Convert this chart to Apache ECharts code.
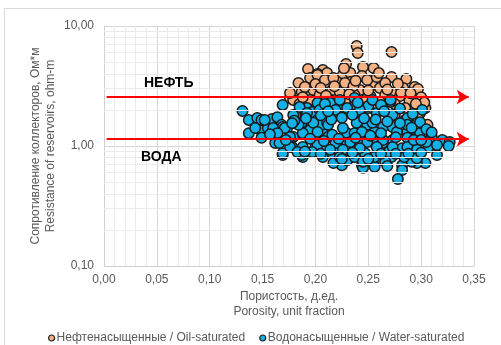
<!DOCTYPE html>
<html>
<head>
<meta charset="utf-8">
<script src="https://cdn.jsdelivr.net/npm/echarts@6/dist/echarts.min.js"></script>
<style>
  html, body { margin: 0; padding: 0; background: #fff; }
  #chart { width: 501px; height: 345px; }
</style>
</head>
<body>
<div id="chart"></div>
<script>
// Нефтенасыщенные: [пористость, сопротивление]
const oilPoints = [
  [0.239, 6.81], [0.240, 5.96], [0.272, 6.07], [0.255, 4.47], [0.245, 4.55], [0.229, 4.82],
  [0.193, 4.38], [0.207, 4.30], [0.202, 3.98], [0.211, 4.06], [0.226, 3.91], [0.233, 4.06],
  [0.244, 3.83], [0.272, 3.76], [0.286, 3.62], [0.184, 3.35], [0.195, 3.69], [0.212, 3.35],
  [0.221, 3.41], [0.233, 3.41], [0.254, 3.22], [0.261, 3.04], [0.294, 3.10], [0.297, 2.99],
  [0.283, 3.04], [0.273, 2.77], [0.187, 2.82], [0.176, 2.51], [0.202, 2.56], [0.220, 2.77],
  [0.242, 2.93], [0.291, 2.51], [0.304, 2.07], [0.306, 1.50], [0.299, 1.88], [0.292, 2.11],
  [0.202, 3.91], [0.209, 3.55], [0.179, 2.42], [0.216, 2.93], [0.223, 2.82], [0.198, 2.93],
  [0.204, 2.66], [0.228, 3.35], [0.176, 2.77], [0.266, 2.66], [0.280, 2.61], [0.289, 2.37],
  [0.252, 2.61], [0.237, 2.66], [0.247, 2.42], [0.261, 2.33], [0.275, 2.24], [0.285, 2.07],
  [0.297, 1.71], [0.185, 2.24], [0.214, 2.42], [0.228, 2.33], [0.236, 3.16], [0.217, 3.69],
  [0.249, 3.55], [0.266, 3.35], [0.200, 3.28], [0.195, 2.42], [0.256, 2.00], [0.275, 1.81],
  [0.242, 2.07], [0.285, 1.65], [0.223, 2.07], [0.190, 3.10], [0.205, 3.05], [0.218, 3.15],
  [0.238, 3.50], [0.258, 3.75], [0.268, 2.95], [0.281, 2.80], [0.290, 2.75], [0.300, 2.55],
  [0.303, 2.30], [0.295, 2.25], [0.250, 2.90], [0.232, 2.70], [0.210, 2.62], [0.188, 2.55],
  [0.278, 3.30], [0.260, 4.05], [0.227, 4.45]
]

// Водонасыщенные: [пористость, сопротивление]
const waterPoints = [
  [0.131, 1.96], [0.137, 1.65], [0.145, 1.71], [0.137, 1.28], [0.148, 1.36], [0.155, 1.41],
  [0.149, 1.65], [0.159, 1.68], [0.164, 1.74], [0.168, 1.50], [0.173, 1.39], [0.169, 0.84],
  [0.178, 0.98], [0.179, 1.19], [0.188, 0.81], [0.185, 1.74], [0.192, 2.07], [0.197, 1.92],
  [0.202, 1.65], [0.204, 2.07], [0.188, 1.44], [0.198, 1.36], [0.207, 1.28], [0.209, 0.93],
  [0.152, 1.65], [0.169, 2.20], [0.181, 1.81], [0.169, 1.44], [0.160, 1.41], [0.187, 1.56],
  [0.195, 1.36], [0.206, 1.50], [0.211, 1.58], [0.220, 1.88], [0.226, 2.07], [0.202, 2.28],
  [0.214, 2.28], [0.169, 0.87], [0.187, 0.84], [0.200, 0.98], [0.207, 0.81], [0.216, 0.87],
  [0.221, 0.93], [0.230, 0.79], [0.225, 0.69], [0.212, 1.19], [0.230, 1.28], [0.188, 1.28],
  [0.176, 1.19], [0.162, 1.06], [0.223, 2.42], [0.230, 1.92], [0.240, 1.92], [0.250, 2.07],
  [0.258, 1.88], [0.271, 2.33], [0.287, 1.65], [0.299, 1.58], [0.301, 2.00], [0.249, 1.50],
  [0.264, 1.44], [0.273, 1.44], [0.256, 1.31], [0.237, 1.28], [0.230, 1.06], [0.242, 1.06],
  [0.254, 1.08], [0.264, 1.06], [0.273, 1.12], [0.287, 1.31], [0.297, 1.24], [0.310, 1.19],
  [0.320, 1.12], [0.327, 1.08], [0.307, 0.98], [0.315, 0.84], [0.304, 0.72], [0.296, 0.72],
  [0.291, 0.74], [0.282, 0.69], [0.282, 0.63], [0.278, 0.53], [0.272, 0.81], [0.263, 0.76],
  [0.254, 0.72], [0.244, 0.69], [0.235, 0.81], [0.226, 0.89], [0.247, 0.87], [0.259, 0.93],
  [0.271, 0.93], [0.282, 0.96], [0.292, 1.02], [0.233, 0.96], [0.245, 0.66], [0.256, 0.67],
  [0.266, 0.74], [0.326, 1.00], [0.217, 0.72], [0.230, 0.76], [0.237, 0.81], [0.269, 0.89],
  [0.299, 1.28], [0.287, 1.17], [0.287, 1.71], [0.273, 1.81], [0.271, 2.42], [0.250, 2.15],
  [0.237, 2.15], [0.185, 2.11], [0.179, 1.81], [0.192, 1.88], [0.204, 2.00], [0.219, 2.00],
  [0.230, 2.07], [0.242, 2.00], [0.254, 1.56], [0.239, 1.56], [0.226, 1.41], [0.212, 1.50],
  [0.198, 1.56], [0.184, 1.50], [0.171, 1.41], [0.164, 1.28], [0.202, 1.31], [0.216, 1.24],
  [0.244, 1.31], [0.277, 1.31], [0.287, 1.50], [0.264, 1.12], [0.249, 1.08], [0.233, 1.08],
  [0.219, 1.06], [0.202, 1.02], [0.188, 0.98], [0.176, 0.98], [0.166, 1.06], [0.183, 0.89],
  [0.197, 0.89], [0.214, 0.93], [0.226, 0.93], [0.242, 0.96], [0.258, 0.98], [0.273, 0.98],
  [0.287, 0.98], [0.296, 0.93], [0.284, 0.81], [0.296, 0.79], [0.256, 0.81], [0.223, 0.81],
  [0.245, 0.74], [0.149, 1.17], [0.143, 1.41], [0.237, 2.51], [0.254, 2.42], [0.209, 2.24],
  [0.180, 1.62], [0.191, 1.70], [0.205, 1.80], [0.215, 1.66], [0.225, 1.72], [0.235, 1.82],
  [0.246, 1.70], [0.257, 1.66], [0.268, 1.60], [0.280, 1.55], [0.291, 1.42], [0.305, 1.38],
  [0.195, 1.15], [0.208, 1.10], [0.222, 1.15], [0.238, 1.17], [0.252, 1.22], [0.262, 1.28],
  [0.276, 1.18], [0.293, 1.12], [0.305, 1.08], [0.315, 1.02], [0.190, 0.90], [0.205, 0.86],
  [0.235, 0.88], [0.250, 0.78], [0.262, 0.86], [0.276, 0.86], [0.288, 0.86], [0.300, 0.88],
  [0.240, 2.30], [0.262, 2.20], [0.280, 2.05], [0.292, 1.85], [0.265, 1.95], [0.212, 1.95],
  [0.178, 1.55], [0.157, 1.25], [0.172, 1.12], [0.310, 1.30], [0.300, 1.12], [0.268, 0.68],
  [0.225, 0.78]
]

// граничные значения (стрелки)
const oilLevel = 2.56
const waterLevel = 1.14
const arrowFrom = 0.0025
const arrowTo = 0.345

const seriesNames = ['Нефтенасыщенные / Oil-saturated', 'Водонасыщенные / Water-saturated']

// промежуточные линии логарифмической сетки (2..9 в каждой декаде)
const minorLogLines = []
;[0.1, 1].forEach(d => {
  for (let k = 2; k <= 9; k++) minorLogLines.push({ yAxis: +(k * d).toFixed(2) })
})

const fmt = v => v.toFixed(2).replace('.', ',')

const chart = echarts.init(document.getElementById('chart'), null, { renderer: 'canvas' })

const option = {
  backgroundColor: '#fff',
  animation: false,
  textStyle: { fontFamily: 'Arial, "Liberation Sans", sans-serif' },
  grid: { left: 104, right: 27, top: 26, bottom: 79 },
  legend: {
    data: seriesNames,
    left: 43,
    top: 327,
    icon: 'circle',
    itemWidth: 6,
    itemHeight: 6,
    itemGap: 14,
    textStyle: { color: '#595959', fontSize: 12, padding: [0, 0, 0, -3] },
    itemStyle: { borderWidth: 1.2 }
  },
  xAxis: {
    type: 'value',
    min: 0,
    max: 0.35,
    interval: 0.05,
    name: 'Пористость, д.ед.\nPorosity, unit fraction',
    nameLocation: 'middle',
    nameGap: 23,
    nameMoveOverlap: false,
    nameTextStyle: { color: '#595959', fontSize: 12, lineHeight: 15 },
    axisLine: { show: true, lineStyle: { color: '#d0d0d0', width: 1 } },
    axisTick: { show: false },
    axisLabel: { color: '#595959', fontSize: 12, margin: 8, formatter: fmt },
    splitLine: { show: true, lineStyle: { color: '#d6d6d6', width: 1 } },
    minorTick: { show: false, splitNumber: 5 },
    minorSplitLine: { show: true, lineStyle: { color: '#ebebeb', width: 1 } }
  },
  yAxis: {
    type: 'log',
    logBase: 10,
    min: 0.1,
    max: 10,
    name: 'Сопротивление коллекторов, Ом*м\nResistance of reservoirs, ohm-m',
    nameLocation: 'middle',
    nameRotate: 90,
    nameGap: 46,
    nameMoveOverlap: false,
    nameTextStyle: { color: '#595959', fontSize: 12, lineHeight: 15 },
    axisLine: { show: true, lineStyle: { color: '#d0d0d0', width: 1 } },
    axisTick: { show: false },
    axisLabel: { color: '#595959', fontSize: 12, margin: 10, formatter: fmt },
    splitLine: { show: true, lineStyle: { color: '#d6d6d6', width: 1 } }
  },
  graphic: [
    {
      type: 'rect',
      shape: { x: 4.5, y: 8.5, width: 600, height: 400 },
      style: { fill: 'none', stroke: '#d9d9d9', lineWidth: 1 },
      silent: true,
      z: -1
    },
    {
      type: 'text',
      left: 144,
      top: 76,
      style: { text: 'НЕФТЬ', fill: '#000', font: 'bold 14px Arial, "Liberation Sans", sans-serif' },
      z: 20
    },
    {
      type: 'text',
      left: 141,
      top: 150,
      style: { text: 'ВОДА', fill: '#000', font: 'bold 14px Arial, "Liberation Sans", sans-serif' },
      z: 20
    }
  ],
  series: [
    {
      name: 'minor-grid',
      type: 'line',
      data: [],
      z: 1,
      silent: true,
      markLine: {
        silent: true,
        symbol: ['none', 'none'],
        label: { show: false },
        lineStyle: { color: '#ebebeb', width: 1, type: 'solid' },
        data: minorLogLines
      }
    },
    {
      name: seriesNames[0],
      type: 'scatter',
      data: oilPoints,
      symbol: 'circle',
      symbolSize: 10.5,
      z: 3,
      itemStyle: { color: '#f4b183', borderColor: '#1a1a1a', borderWidth: 1.5, opacity: 1 }
    },
    {
      name: seriesNames[1],
      type: 'scatter',
      data: waterPoints,
      symbol: 'circle',
      symbolSize: 10.5,
      z: 4,
      itemStyle: { color: '#14b1e7', borderColor: '#1a1a1a', borderWidth: 1.5, opacity: 1 }
    },
    {
      name: 'arrows',
      type: 'line',
      data: [],
      z: 10,
      silent: true,
      markLine: {
        silent: true,
        symbol: ['none', 'arrow'],
        symbolSize: [11, 12],
        label: { show: false },
        lineStyle: { color: '#ff0000', width: 2, type: 'solid' },
        data: [
          [{ coord: [arrowFrom, oilLevel] }, { coord: [arrowTo, oilLevel] }],
          [{ coord: [arrowFrom, waterLevel] }, { coord: [arrowTo, waterLevel] }]
        ]
      }
    }
  ]
}

chart.setOption(option)
</script>
</body>
</html>
